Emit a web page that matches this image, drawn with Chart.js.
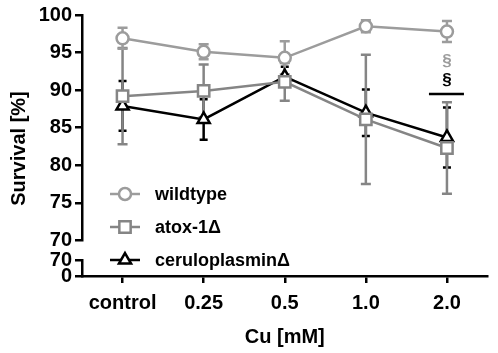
<!DOCTYPE html>
<html>
<head>
<meta charset="utf-8">
<script src="https://cdn.jsdelivr.net/npm/chart.js@4.4.1/dist/chart.umd.min.js"></script>
<style>
  html, body { margin: 0; padding: 0; background: #fff; }
  #wrap { width: 498px; height: 353px; }
</style>
</head>
<body>
<div id="wrap"><canvas id="survivalChart"></canvas></div>
<script>
// values
const categories = ["control", "0.25", "0.5", "1.0", "2.0"];
const wildtype = [96.9, 95.1, 94.3, 98.5, 97.8];
const wildtypeErr = [1.4, 1.0, 2.2, 0.8, 1.4];
const atox = [89.2, 89.9, 91.1, 86.1, 82.3];
const atoxErr = [6.4, 3.5, 2.5, 8.6, 6.1];
const cerulo = [87.9, 86.1, 91.8, 87.0, 83.7];
const ceruloErr = [3.3, 2.7, 1.3, 3.1, 4.0];
const upperTicks = [70, 75, 80, 85, 90, 95, 100];
const lowerTicks = [0, 70];

const FONT = "Arial, 'Liberation Sans', sans-serif";
const GRAY_LIGHT = "#9c9c9c";
const GRAY_DARK = "#858585";

const errorBars = {
    id: "errorBars",
    beforeDatasetsDraw(chart) {
        const ctx = chart.ctx;
        const x = chart.scales.x, y = chart.scales.y;
        const errs = [wildtypeErr, atoxErr, ceruloErr];
        const caps = [5, 5, 4];
        ctx.save();
        for (let d = chart.data.datasets.length - 1; d >= 0; d--) {
            const ds = chart.data.datasets[d];
            ctx.strokeStyle = ds.borderColor;
            ctx.lineWidth = 2.5;
            ds.data.forEach((v, i) => {
                const px = x.getPixelForValue(i);
                const top = y.getPixelForValue(v + errs[d][i]);
                const bot = y.getPixelForValue(v - errs[d][i]);
                ctx.beginPath();
                ctx.moveTo(px, top); ctx.lineTo(px, bot);
                ctx.moveTo(px - caps[d], top); ctx.lineTo(px + caps[d], top);
                ctx.moveTo(px - caps[d], bot); ctx.lineTo(px + caps[d], bot);
                ctx.stroke();
            });
        }
        ctx.restore();
    }
};

const extras = {
    id: "extras",
    afterDraw(chart) {
        const ctx = chart.ctx;
        const area = chart.chartArea;
        const x = chart.scales.x, y = chart.scales.y;
        ctx.save();
        // y title spanning the broken axis
        ctx.font = "bold 20px " + FONT;
        ctx.fillStyle = "#000";
        ctx.textAlign = "center";
        ctx.textBaseline = "middle";
        ctx.translate(19, (area.top + area.bottom) / 2 + 3);
        ctx.rotate(-Math.PI / 2);
        ctx.fillText("Survival [%]", 0, 0);
        ctx.restore();

        // significance marks at 2.0
        ctx.save();
        const sx = x.getPixelForValue(4);
        ctx.font = "bold 17px " + FONT;
        ctx.textAlign = "center";
        ctx.textBaseline = "middle";
        ctx.fillStyle = GRAY_LIGHT;
        ctx.fillText("§", sx, y.getPixelForValue(93.9));
        ctx.fillStyle = "#000";
        ctx.fillText("§", sx, y.getPixelForValue(91.3));
        ctx.strokeStyle = "#000";
        ctx.lineWidth = 2.5;
        ctx.beginPath();
        const ly = y.getPixelForValue(89.5);
        ctx.moveTo(sx - 18, ly); ctx.lineTo(sx + 17, ly);
        ctx.stroke();
        ctx.restore();

        // legend inside the plot
        ctx.save();
        const rows = [194, 227, 260];
        chart.data.datasets.forEach((ds, i) => {
            const ry = rows[i];
            const lx = area.left + 28;
            ctx.strokeStyle = ds.borderColor;
            ctx.lineWidth = 2.5;
            ctx.beginPath();
            ctx.moveTo(lx, ry); ctx.lineTo(lx + 30, ry);
            ctx.stroke();
            ctx.fillStyle = "#fff";
            Chart.helpers.drawPoint(ctx, {
                pointStyle: ds.pointStyle, radius: ds.pointRadius,
                borderWidth: ds.pointBorderWidth, rotation: 0
            }, lx + 15, ry);
            ctx.fillStyle = "#000";
            ctx.font = "bold 18px " + FONT;
            ctx.textAlign = "left";
            ctx.textBaseline = "middle";
            ctx.fillText(ds.label, lx + 45, ry + 1);
        });
        ctx.restore();
    }
};

const axisFont = { family: FONT, size: 20, weight: "bold" };
const yGrid = { drawOnChartArea: false, color: "#000", lineWidth: 2.5, tickLength: 7 };
const yBorder = { color: "#000", width: 2.5 };
const yTicks = { color: "#000", font: axisFont, padding: 3, autoSkip: false };

new Chart(document.getElementById("survivalChart"), {
    type: "line",
    data: {
        labels: categories,
        datasets: [
            { label: "wildtype", data: wildtype, borderColor: GRAY_LIGHT, pointStyle: "circle", pointRadius: 6, pointBorderWidth: 2.5 },
            { label: "atox-1Δ", data: atox, borderColor: GRAY_DARK, pointStyle: "rect", pointRadius: 8, pointBorderWidth: 2.5 },
            { label: "ceruloplasminΔ", data: cerulo, borderColor: "#000", pointStyle: "triangle", pointRadius: 7, pointBorderWidth: 2.5 }
        ].map(ds => Object.assign(ds, {
            yAxisID: "y", backgroundColor: "#fff", pointBackgroundColor: "#fff", pointBorderColor: ds.borderColor,
            borderWidth: 2.5, tension: 0
        }))
    },
    options: {
        responsive: true,
        maintainAspectRatio: false,
        animation: false,
        layout: { padding: { top: 10, right: 2, left: 0, bottom: 0 } },
        plugins: { legend: { display: false }, tooltip: { enabled: false } },
        scales: {
            x: {
                offset: true,
                grid: { drawOnChartArea: false, color: "#000", lineWidth: 2.5, tickLength: 7, offset: false },
                border: { color: "#000", width: 2.5 },
                ticks: { color: "#000", font: axisFont, padding: 8 },
                title: { display: true, text: "Cu [mM]", color: "#000", font: axisFont, padding: { top: 2 } },
                afterFit: s => { s.height = 77; }
            },
            // stacked left axes: listed bottom-first, Chart.js places the last one on top
            y0: {
                type: "linear", position: "left", stack: "ys", stackWeight: 16, min: 0, max: 70,
                afterBuildTicks: s => { s.ticks = lowerTicks.map(v => ({ value: v })); },
                grid: yGrid, border: yBorder, ticks: yTicks,
                afterFit: s => { s.width = 82; }
            },
            gap: {
                type: "linear", position: "left", stack: "ys", stackWeight: 20, min: 0, max: 1,
                grid: { display: false }, border: { display: false }, ticks: { display: false },
                afterFit: s => { s.width = 82; }
            },
            y: {
                type: "linear", position: "left", stack: "ys", stackWeight: 228, min: 70, max: 100,
                afterBuildTicks: s => { s.ticks = upperTicks.map(v => ({ value: v })); },
                grid: yGrid, border: yBorder, ticks: yTicks,
                afterFit: s => { s.width = 82; }
            }
        }
    },
    plugins: [errorBars, extras]
});
</script>
</body>
</html>
